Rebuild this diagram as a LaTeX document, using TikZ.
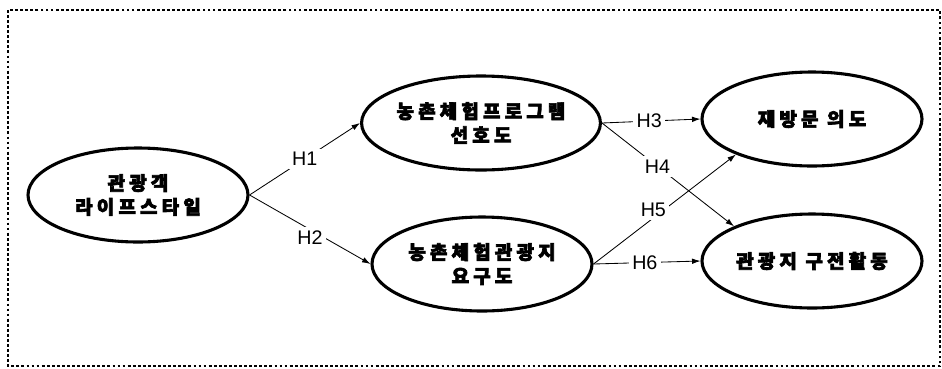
\documentclass[tikz,border=0pt]{standalone}
\usepackage{fontspec}
\setmainfont{Liberation Sans}
\newfontfamily\kr[LetterSpace=22, FakeBold=3.5]{Noto Sans CJK KR}
\usepackage{tikz}
\usetikzlibrary{shapes.geometric, arrows.meta, positioning}
\tikzstyle{construct} = [ellipse, draw, line width=2.2pt, minimum width=5.5cm, minimum height=2.35cm, inner sep=0pt, align=center, font=\kr\bfseries\fontsize{13.5}{17}\selectfont]
\tikzstyle{arrow} = [line width=0.6pt, -{Latex[length=6pt,width=4pt]}]
\tikzstyle{hyp} = [fill=white, inner sep=2.5pt, font=\fontsize{14}{16}\selectfont]
\tikzstyle{frame} = [line width=2pt, dash pattern=on 2pt off 1.6pt]

\begin{document}
\begin{tikzpicture}
    \useasboundingbox (0, 0) rectangle (23.55, -9.2);
    % Outer frame
    \draw[frame] (0.2, -0.25) rectangle (23.5, -9.15);

    % Constructs
    \node[construct] (life) at (3.45, -4.875) {관광객\\라이프스타일};
    \node[construct] (pref) at (12.025, -3.075) {농촌체험프로그램\\선호도};
    \node[construct] (need) at (12.05, -6.6) {농촌체험관광지\\요구도};
    \node[construct] (revisit) at (20.3, -2.975) {재방문 의도};
    \node[construct] (wom) at (20.3, -6.525) {관광지 구전활동};

    % Hypotheses
    \draw[arrow] (life.east) -- node[hyp] {H1} (pref.west);
    \draw[arrow] (life.east) -- node[hyp, yshift=-0.2cm] {H2} (need.west);
    \draw[arrow] (pref.east) -- node[hyp, pos=0.48] {H3} (revisit.west);
    \draw[arrow] (pref.east) -- node[hyp, pos=0.42] {H4} (wom.156);
    \draw[arrow] (need.east) -- node[hyp, pos=0.42, yshift=0.2cm] {H5} (revisit.205);
    \draw[arrow] (need.east) -- node[hyp, pos=0.48] {H6} (wom.west);
\end{tikzpicture}
\end{document}
